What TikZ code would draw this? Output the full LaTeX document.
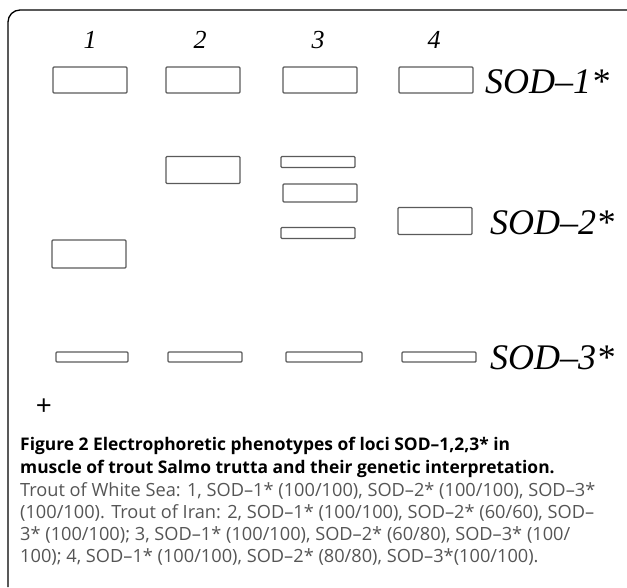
\documentclass[tikz,border=0pt]{standalone}
\usepackage{fontspec}
\setmainfont{Liberation Serif}
\newfontfamily\capfont{Open Sans}
\definecolor{bandgray}{HTML}{5A5A5A}
\definecolor{captext}{HTML}{555555}
\tikzset{
  band/.style={draw=bandgray, line width=1.4pt, rounded corners=1pt, inner sep=0pt, minimum width=74pt, minimum height=26pt},
  thin/.style={band, minimum height=10pt},
  lanenum/.style={font=\fontsize{26}{26}\selectfont\itshape, inner sep=0pt},
  locus/.style={font=\fontsize{36}{36}\selectfont\itshape, anchor=west, inner sep=0pt},
  captitle/.style={font=\capfont\bfseries\fontsize{17.4}{17.4}\selectfont, anchor=base west, inner sep=0pt},
  capbody/.style={font=\capfont\fontsize{18.2}{18.2}\selectfont, text=captext, anchor=base west, inner sep=0pt}
}
\begin{document}
\begin{tikzpicture}[x=1pt,y=-1pt]
\useasboundingbox (0,0) rectangle (627,587);
% frame
\draw[line width=1.3pt, rounded corners=12pt] (8,587) -- (8,10) -- (627,10);
% lane numbers
\node[lanenum] (n1) at (90,40) {1};
\node[lanenum] (n2) at (200,40) {2};
\node[lanenum] (n3) at (318,40) {3};
\node[lanenum] (n4) at (434,40) {4};
% SOD-1 row
\node[band] (a1) at (90,80) {};
\node[band] (a2) at (203,80) {};
\node[band] (a3) at (320,80) {};
\node[band] (a4) at (436,80) {};
\node[locus] (l1) at (485,82) {SOD–1*};
% SOD-2 row
\node[band, minimum height=27pt] (b2) at (203,170) {};
\node[thin, minimum height=11pt] (b3a) at (318,162) {};
\node[band, minimum height=18pt] (b3b) at (320,193) {};
\node[thin, minimum height=11pt] (b3c) at (318,233) {};
\node[band, minimum height=27pt] (b4) at (435,221) {};
\node[band, minimum height=28pt] (b1) at (89,254) {};
\node[locus] (l2) at (490,223) {SOD–2*};
% SOD-3 row
\node[thin, minimum width=72pt] (c1) at (92,357) {};
\node[thin] (c2) at (205,357) {};
\node[thin, minimum width=76pt] (c3) at (324,357) {};
\node[thin] (c4) at (439,357) {};
\node[locus] (l3) at (490,358) {SOD–3*};
% plus
\node[font=\capfont\fontsize{28}{28}\selectfont, inner sep=0pt] (plus) at (44,407) {+};
% caption
\node[captitle] (t1) at (20,450) {Figure 2 Electrophoretic phenotypes of loci SOD–1,2,3* in};
\node[captitle] (t2) at (20,473) {muscle of trout Salmo trutta and their genetic interpretation.};
\node[capbody] (p1) at (20,496) {Trout of White Sea: 1, SOD–1* (100/100), SOD–2* (100/100), SOD–3*};
\node[capbody] (p2) at (20,518) {(100/100). Trout of Iran: 2, SOD–1* (100/100), SOD–2* (60/60), SOD–};
\node[capbody] (p3) at (20,540) {3* (100/100); 3, SOD–1* (100/100), SOD–2* (60/80), SOD–3* (100/};
\node[capbody] (p4) at (20,562) {100); 4, SOD–1* (100/100), SOD–2* (80/80), SOD–3*(100/100).};
\end{tikzpicture}
\end{document}
